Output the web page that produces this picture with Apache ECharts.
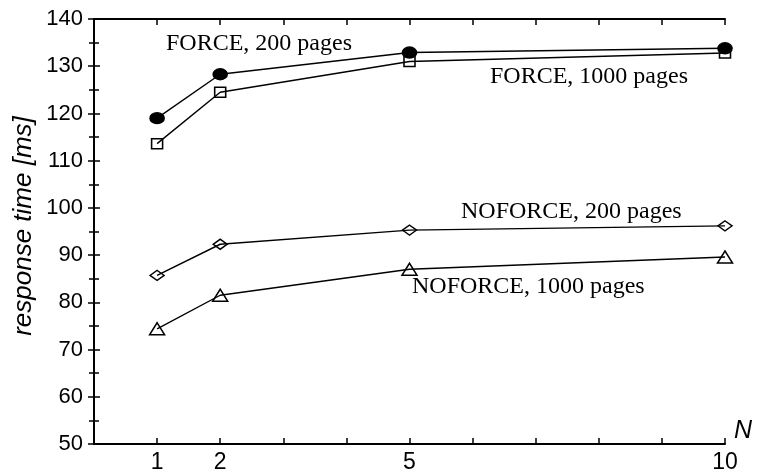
<!DOCTYPE html>
<html><head><meta charset="utf-8">
<script src="https://cdn.jsdelivr.net/npm/echarts@6/dist/echarts.min.js"></script>
<style>html,body{margin:0;padding:0;background:#fff}#c{width:762px;height:474px}</style>
</head><body><div id="c"></div>
<script>
const nValues = [1, 2, 5, 10];
const xTickLabels = [1, 2, 5, 10];
const force200 = [119.0, 128.3, 132.9, 133.8];
const force1000 = [113.6, 124.5, 131.0, 132.8];
const noforce200 = [85.7, 92.3, 95.3, 96.2];
const noforce1000 = [74.4, 81.5, 87.0, 89.6];
const seriesNames = ['FORCE, 200 pages', 'FORCE, 1000 pages', 'NOFORCE, 200 pages', 'NOFORCE, 1000 pages'];
const yAxisTitle = 'response time [ms]';
const xAxisTitle = 'N';

const chart = echarts.init(document.getElementById('c'), null, {renderer: 'canvas'});
const pair = arr => nValues.map((n, i) => [n, arr[i]]);
const lineStyle = {color: '#000', width: 1.4};
const mk = (name, data, symbol, size, filled) => ({
  name, type: 'line', data: pair(data), symbol, symbolSize: size,
  lineStyle, itemStyle: {color: filled ? '#000' : 'rgba(0,0,0,0)', borderColor: '#000', borderWidth: 1.5},
  emphasis: {disabled: true}, animation: false, z: 3
});
const sans = 'Liberation Sans, Arial, sans-serif';
const serif = 'Liberation Serif, Times New Roman, serif';
const axisBase = {
  axisLine: {show: true, lineStyle: {color: '#000', width: 2}},
  splitLine: {show: false}
};
const tick = {show: true, inside: true, length: 6, lineStyle: {color: '#000', width: 1.5}};
const minor = {show: true, splitNumber: 2, length: 5, lineStyle: {color: '#000', width: 1.5}};
chart.setOption({
  animation: false,
  backgroundColor: '#fff',
  grid: {left: 94, right: 37, top: 19, bottom: 28},
  xAxis: [
    Object.assign({type: 'value', min: 0, max: 10, interval: 1, position: 'bottom',
      axisTick: tick,
      axisLabel: {fontFamily: sans, fontSize: 23, color: '#000', margin: 7,
        formatter: v => xTickLabels.indexOf(v) >= 0 ? String(v) : ''}
    }, axisBase),
    Object.assign({type: 'value', min: 0, max: 10, interval: 1, position: 'top',
      axisTick: tick, axisLabel: {show: false}
    }, axisBase)
  ],
  yAxis: [
    Object.assign({type: 'value', min: 50, max: 140, interval: 10, position: 'left',
      axisTick: tick, minorTick: minor,
      axisLabel: {fontFamily: sans, fontSize: 22, color: '#000', margin: 11}
    }, axisBase),
    Object.assign({type: 'value', min: 50, max: 140, interval: 10, position: 'right',
      axisTick: tick, minorTick: minor, axisLabel: {show: false}
    }, axisBase)
  ],
  series: [
    mk(seriesNames[0], force200, 'circle', [14, 11], true),
    mk(seriesNames[1], force1000, 'rect', [11, 10], false),
    mk(seriesNames[2], noforce200, 'diamond', [14, 10], false),
    mk(seriesNames[3], noforce1000, 'triangle', [15, 12], false)
  ],
  graphic: [
    {type: 'text', x: 24, y: 226, rotation: Math.PI / 2,
      style: {text: yAxisTitle, font: 'italic 26px ' + sans, fill: '#000', align: 'center', verticalAlign: 'middle'}},
    {type: 'text', left: 166, top: 32, style: {text: seriesNames[0], font: '24px ' + serif, fill: '#000'}},
    {type: 'text', left: 490, top: 65, style: {text: seriesNames[1], font: '24px ' + serif, fill: '#000'}},
    {type: 'text', left: 461, top: 200, style: {text: seriesNames[2], font: '24px ' + serif, fill: '#000'}},
    {type: 'text', left: 412, top: 275, style: {text: seriesNames[3], font: '24px ' + serif, fill: '#000'}},
    {type: 'text', left: 734, top: 419, style: {text: xAxisTitle, font: 'italic 25px ' + sans, fill: '#000'}}
  ]
});
</script></body></html>
